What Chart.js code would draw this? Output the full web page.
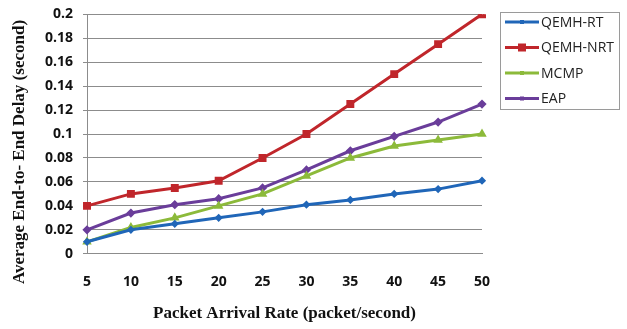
<!DOCTYPE html>
<html>
<head>
<meta charset="utf-8">
<script src="https://cdn.jsdelivr.net/npm/chart.js@4/dist/chart.umd.min.js"></script>
<style>
    body { margin: 0; background: #fff; }
    #wrap { width: 627px; height: 329px; }
</style>
</head>
<body>
<div id="wrap"><canvas id="myChart" width="627" height="329"></canvas></div>
<script>
const rates = ['5', '10', '15', '20', '25', '30', '35', '40', '45', '50'];
const qemhRT = [0.01, 0.02, 0.025, 0.03, 0.035, 0.041, 0.045, 0.05, 0.054, 0.061];
const qemhNRT = [0.04, 0.05, 0.055, 0.061, 0.08, 0.1, 0.125, 0.15, 0.175, 0.2];
const mcmp = [0.01, 0.022, 0.03, 0.04, 0.05, 0.065, 0.08, 0.09, 0.095, 0.1];
const eap = [0.02, 0.034, 0.041, 0.046, 0.055, 0.07, 0.086, 0.098, 0.11, 0.125];

const tickFont = { family: "'Open Sans', sans-serif", size: 14, weight: 'bold' };
const titleFont = { family: "'Liberation Serif', serif", size: 17, weight: 'bold' };
const yTitle = 'Average End-to- End Delay (second)';

// framed legend + rotated y title, drawn after the chart
const extras = {
    id: 'extras',
    afterDraw: (chart) => {
        const ctx = chart.ctx;
        ctx.save();
        ctx.translate(20, 152);
        ctx.rotate(-Math.PI / 2);
        ctx.font = "bold 17px 'Liberation Serif', serif";
        ctx.fillStyle = '#111';
        ctx.textAlign = 'center';
        ctx.textBaseline = 'middle';
        ctx.fillText(yTitle, 0, 0);
        ctx.restore();

        const x = 500, y = 12, w = 119, h = 97;
        ctx.save();
        ctx.strokeStyle = '#9a9a9a';
        ctx.lineWidth = 1;
        ctx.strokeRect(x + 0.5, y + 0.5, w, h);
        ctx.font = "14px 'Open Sans', sans-serif";
        ctx.textBaseline = 'middle';
        chart.data.datasets.forEach((ds, i) => {
            const cy = y + 10 + i * 25.5;
            ctx.strokeStyle = ds.borderColor;
            ctx.lineWidth = 3;
            ctx.beginPath();
            ctx.moveTo(x + 5, cy);
            ctx.lineTo(x + 39, cy);
            ctx.stroke();
            ctx.fillStyle = ds.borderColor;
            const r = ds.pointStyle === 'rect' ? 4 : 2;
            ctx.fillRect(x + 22 - r, cy - r, r * 2, r * 2);
            ctx.fillStyle = '#222';
            ctx.fillText(ds.label, x + 41, cy + 1);
        });
        ctx.restore();
    }
};

const makeSet = (label, data, color, style, radius) => ({
    label: label,
    data: data,
    borderColor: color,
    backgroundColor: color,
    borderWidth: 3,
    pointStyle: style,
    pointRadius: radius,
    pointHoverRadius: radius,
    tension: 0
});

new Chart(document.getElementById('myChart').getContext('2d'), {
    type: 'line',
    data: {
        labels: rates,
        datasets: [
            makeSet('QEMH-RT', qemhRT, '#2066b8', 'rectRot', 2),
            makeSet('QEMH-NRT', qemhNRT, '#c0262b', 'rect', 3.5),
            makeSet('MCMP', mcmp, '#8cba3a', 'triangle', 2.5),
            makeSet('EAP', eap, '#6a3d9a', 'rectRot', 2.5)
        ]
    },
    options: {
        responsive: false,
        animation: false,
        layout: { padding: { left: 35, right: 145, top: 0, bottom: 3 } },
        plugins: { legend: { display: false }, tooltip: { enabled: false } },
        scales: {
            x: {
                offset: false,
                grid: { display: false, drawOnChartArea: false, drawTicks: true, tickLength: 7, color: '#8c8c8c' },
                border: { color: '#8c8c8c', width: 1 },
                ticks: { font: tickFont, color: '#111', padding: 13, maxRotation: 0 },
                title: { display: true, text: 'Packet Arrival Rate (packet/second)', font: titleFont, color: '#111', padding: { top: 0, bottom: 2 } }
            },
            y: {
                min: 0,
                max: 0.2,
                grid: { color: '#8c8c8c', tickLength: 4 },
                border: { color: '#8c8c8c', width: 1 },
                ticks: {
                    stepSize: 0.02,
                    font: { ...tickFont, lineHeight: 0.6 },
                    color: '#111',
                    padding: 10,
                    callback: (v) => String(+v.toFixed(2))
                }
            }
        }
    },
    plugins: [extras]
});
</script>
</body>
</html>
